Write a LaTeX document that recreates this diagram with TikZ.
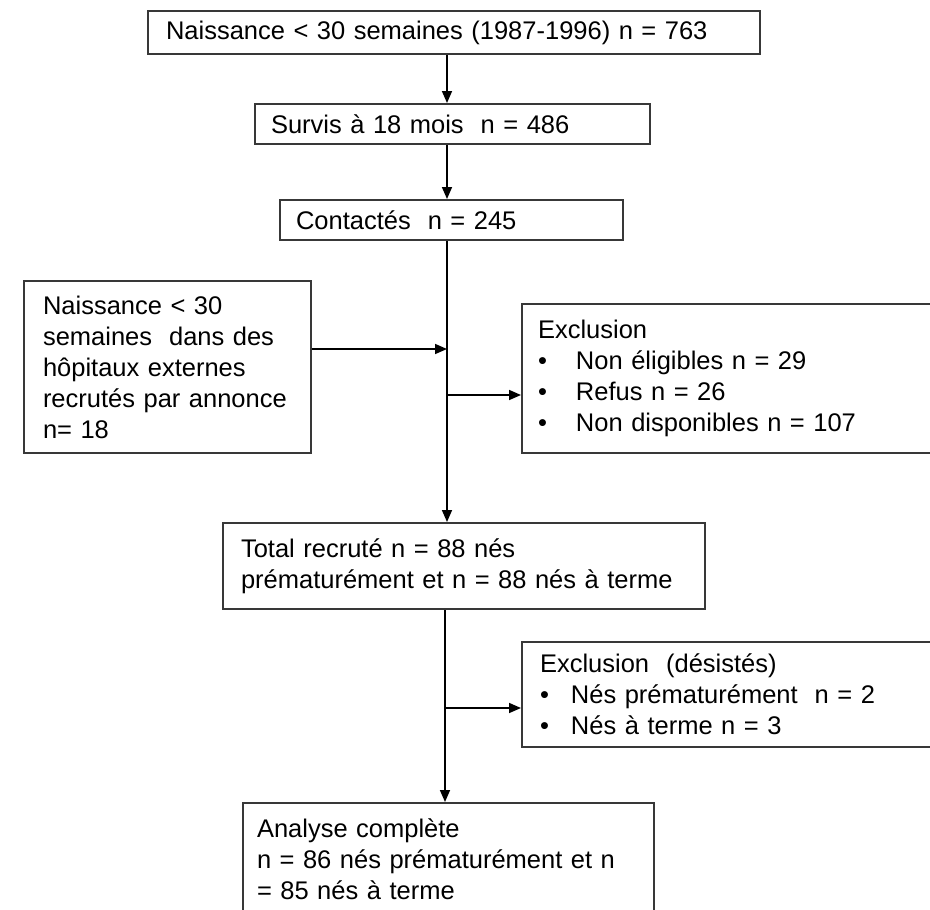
\documentclass[tikz,border=0pt]{standalone}
\usepackage{fontspec}
\setmainfont{Liberation Sans}
\usetikzlibrary{arrows.meta}
\definecolor{boxline}{gray}{0.22}
\newcommand{\Puce}[1]{\makebox[#1][l]{\textbullet}}
\tikzset{
  flowbox/.style={draw=boxline, line width=2pt, anchor=north west, align=left,
    inner xsep=16pt, inner ysep=0pt, font=\fontsize{25.5}{31}\selectfont},
  flowarrow/.style={line width=1.6pt, -{Triangle[length=12pt,width=10pt]}}
}

\begin{document}
\begin{tikzpicture}[x=1pt,y=-1pt]
    \useasboundingbox (0,0) rectangle (930,910);
    \clip (0,0) rectangle (930,910);
    \path
        (147,10) node[flowbox, inner xsep=18pt, text width=576pt, minimum height=43pt] (naiss)
        {Naissance < 30 semaines (1987-1996) n = 763}
        (254,103) node[flowbox, text width=363pt, minimum height=40pt] (surv)
        {Survis à 18 mois~ n = 486}
        (279,199) node[flowbox, text width=311pt, minimum height=40pt] (cont)
        {Contactés~ n = 245}
        (23,280) node[flowbox, inner xsep=19pt, text width=249pt, minimum height=172pt] (ext)
        {Naissance < 30\\semaines~ dans des\\hôpitaux externes\\recrutés par annonce\\n= 18}
        (521,303) node[flowbox, text width=387pt, minimum height=149pt] (excl)
        {Exclusion\\\Puce{38pt}Non éligibles n = 29\\\Puce{38pt}Refus n = 26\\\Puce{38pt}Non disponibles n = 107}
        (222,522) node[flowbox, inner xsep=18pt, text width=446pt, minimum height=86pt] (total)
        {Total recruté n = 88 nés\\prématurément et n = 88 nés à terme}
        (521,641) node[flowbox, inner xsep=18pt, text width=383pt, minimum height=105pt] (desist)
        {Exclusion~ (désistés)\\\Puce{31pt}Nés prématurément~ n = 2\\\Puce{31pt}Nés à terme n = 3}
        (242,802) node[flowbox, inner xsep=14pt, text width=383pt, minimum height=112pt] (analyse)
        {Analyse complète\\n = 86 nés prématurément et n\\= 85 nés à terme};
    % spine and side joins
    \coordinate (spine) at (447,0);
    \coordinate (joinA) at (447,349);
    \coordinate (joinB) at (447,395);
    \coordinate (spineB) at (445,0);
    \coordinate (joinC) at (445,708);
    \draw[flowarrow] (naiss.south -| spine) -- (surv.north -| spine);
    \draw[flowarrow] (surv.south -| spine) -- (cont.north -| spine);
    \draw[flowarrow] (cont.south -| spine) -- (total.north -| spine);
    \draw[flowarrow] (ext.east |- joinA) -- (joinA);
    \draw[flowarrow] (joinB) -- (excl.west |- joinB);
    \draw[flowarrow] (total.south -| spineB) -- (analyse.north -| spineB);
    \draw[flowarrow] (joinC) -- (desist.west |- joinC);
\end{tikzpicture}
\end{document}
